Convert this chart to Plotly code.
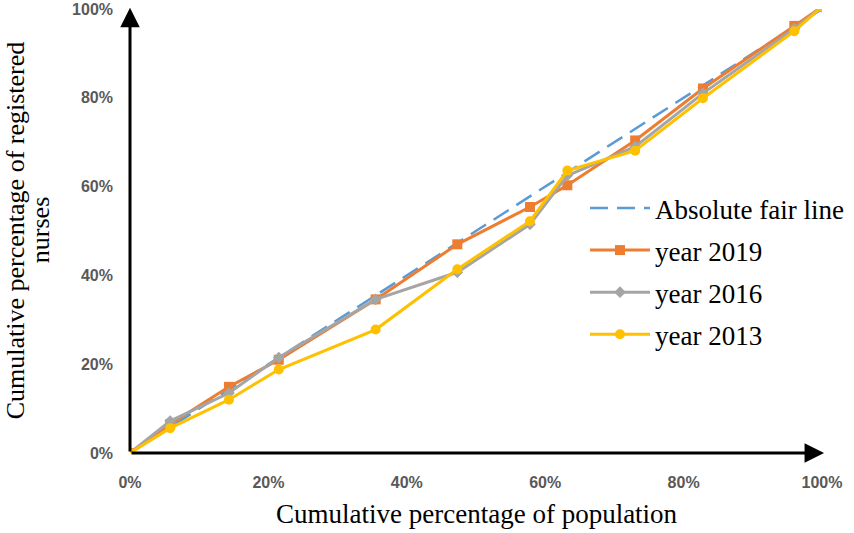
import plotly.graph_objects as go

x_pop = [0, 5.8, 14.3, 21.5, 35.5, 47.3, 57.8, 63.2, 73.0, 82.8, 96.0, 100]
fair_x = [0, 100]
fair_y = [0, 100]
y2019 = [0, 6.5, 14.9, 21.0, 34.6, 47.0, 55.4, 60.3, 70.4, 82.1, 96.2, 100.5]
y2016 = [0, 7.2, 13.5, 21.5, 34.6, 40.7, 51.5, 62.5, 69.0, 81.0, 95.6, 100.5]
y2013 = [0, 5.6, 12.0, 18.8, 27.8, 41.4, 52.2, 63.6, 68.1, 79.9, 95.0, 100.5]
ticks = [0, 20, 40, 60, 80, 100]
tick_labels = ["0%", "20%", "40%", "60%", "80%", "100%"]

fig = go.Figure()
fig.add_trace(go.Scatter(x=fair_x, y=fair_y, mode="lines", name="Absolute fair line",
                         legendgroup="a",
                         line=dict(color="#5B9BD5", width=2.5, dash="18px,9px")))
fig.add_trace(go.Scatter(x=x_pop, y=y2019, mode="lines+markers", name="year 2019",
                         legendgroup="b",
                         line=dict(color="#ED7D31", width=3),
                         marker=dict(symbol="square", size=10, color="#ED7D31")))
fig.add_trace(go.Scatter(x=x_pop, y=y2016, mode="lines+markers", name="year 2016",
                         legendgroup="c",
                         line=dict(color="#A5A5A5", width=3),
                         marker=dict(symbol="diamond", size=9, color="#A5A5A5")))
fig.add_trace(go.Scatter(x=x_pop, y=y2013, mode="lines+markers", name="year 2013",
                         legendgroup="d",
                         line=dict(color="#FFC000", width=3),
                         marker=dict(symbol="circle", size=10, color="#FFC000")))

tickfont = dict(family="Liberation Sans, Arial, sans-serif", size=16, color="#595959",
                weight="bold")
fig.update_layout(
    width=854, height=533,
    margin=dict(l=130, r=32, t=9, b=80, autoexpand=False),
    plot_bgcolor="white", paper_bgcolor="white",
    showlegend=True,
    legend=dict(x=0.6575, y=0.606, xanchor="left", yanchor="top",
                font=dict(family="Liberation Serif, Times New Roman, serif", size=27, color="black"),
                bgcolor="rgba(0,0,0,0)", itemwidth=60, traceorder="grouped",
                tracegroupgap=4),
    xaxis=dict(range=[0, 100], showgrid=False, zeroline=False, showline=False,
               tickvals=ticks, ticktext=tick_labels, tickfont=tickfont, automargin=False,
               ticks="", ticklabelstandoff=18, ticklabeloverflow="allow"),
    yaxis=dict(range=[0, 100], showgrid=False, zeroline=False, showline=False,
               tickvals=ticks, ticktext=tick_labels, tickfont=tickfont, automargin=False,
               ticks="", ticklabelstandoff=16, ticklabeloverflow="allow"),
)

# axes with arrows
fig.add_annotation(x=100.3, y=0, ax=0, ay=0, xref="x", yref="y", axref="x", ayref="y",
                   showarrow=True, arrowhead=2, arrowsize=1.3, arrowwidth=3, arrowcolor="black", text="")
fig.add_annotation(x=0, y=100.3, ax=0, ay=0, xref="x", yref="y", axref="x", ayref="y",
                   showarrow=True, arrowhead=2, arrowsize=1.3, arrowwidth=3, arrowcolor="black", text="")

titlefont = dict(family="Liberation Serif, Times New Roman, serif", size=27, color="black")
yfont = dict(family="Liberation Serif, Times New Roman, serif", size=26, color="black")
fig.add_annotation(text="Cumulative percentage of population", xref="paper", yref="paper",
                   x=0.501, y=-0.137, xanchor="center", yanchor="middle", showarrow=False, font=titlefont)
fig.add_annotation(text="Cumulative percentage of registered", xref="paper", yref="paper",
                   x=-0.166, y=0.502, xanchor="center", yanchor="middle", showarrow=False,
                   textangle=-90, font=yfont)
fig.add_annotation(text="nurses", xref="paper", yref="paper",
                   x=-0.130, y=0.502, xanchor="center", yanchor="middle", showarrow=False,
                   textangle=-90, font=yfont)

fig.write_html("out.html", config={"displayModeBar": False},
               post_script="document.body.style.margin='0';document.body.style.overflow='hidden';")
